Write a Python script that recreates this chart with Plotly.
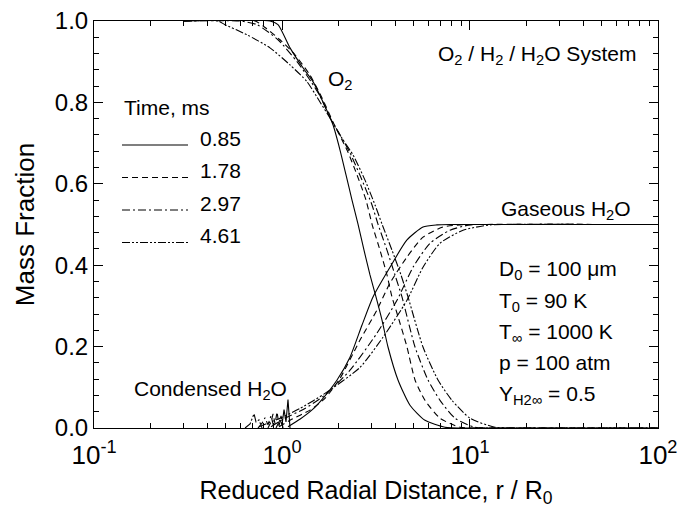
import plotly.graph_objects as go

FONT = "Liberation Sans, Arial, Helvetica, sans-serif"

times = ["0.85", "1.78", "2.97", "4.61"]
dashes = ["solid", "6px,4px", "8px,3px,2px,3px", "8px,2px,2px,2px,2px,2px"]

# O2 mass fraction vs reduced radial distance
o2_r = [
    [0.3, 0.863, 0.952, 1.103, 1.293, 1.462, 1.652, 1.867, 2.035, 2.190, 2.357, 2.537,
     2.730, 2.938, 3.162, 3.404, 3.663, 4.140, 4.795, 5.763, 7.362, 10.0, 100],
    [0.3, 0.719, 0.812, 0.976, 1.172, 1.409, 1.633, 1.867, 2.217, 2.506, 2.798, 3.011,
     3.320, 3.618, 3.846, 4.090, 4.622, 5.100, 5.763, 6.928, 8.847, 12.78, 100],
    [0.3, 0.598, 0.736, 0.952, 1.202, 1.427, 1.600, 1.800, 2.035, 2.300, 2.665, 3.011,
     3.240, 3.618, 3.990, 4.347, 5.100, 5.980, 6.928, 8.323, 10.63, 16.32, 100],
    [0.3, 0.457, 0.497, 0.652, 0.863, 1.103, 1.358, 1.592, 1.800, 2.111, 2.386, 2.764,
     3.124, 3.404, 3.846, 4.295, 4.680, 5.623, 6.758, 8.022, 10.0, 13.58, 20.85, 100],
]
o2_y = [
    [1.0, 1.0, 0.991, 0.934, 0.885, 0.851, 0.801, 0.745, 0.683, 0.622, 0.560, 0.501,
     0.437, 0.376, 0.322, 0.265, 0.199, 0.118, 0.056, 0.019, 0.002, 0.0, 0.0],
    [1.0, 1.0, 0.984, 0.954, 0.917, 0.867, 0.811, 0.752, 0.683, 0.622, 0.560, 0.501,
     0.437, 0.376, 0.322, 0.282, 0.199, 0.118, 0.068, 0.024, 0.002, 0.0, 0.0],
    [1.0, 1.0, 0.991, 0.954, 0.900, 0.851, 0.814, 0.762, 0.720, 0.676, 0.609, 0.548,
     0.501, 0.437, 0.376, 0.322, 0.199, 0.118, 0.068, 0.024, 0.002, 0.0, 0.0],
    [1.0, 1.0, 0.991, 0.966, 0.934, 0.892, 0.851, 0.801, 0.762, 0.708, 0.671, 0.609,
     0.548, 0.501, 0.437, 0.376, 0.322, 0.199, 0.118, 0.068, 0.024, 0.002, 0.0, 0.0],
]

# Gaseous H2O
h2o_r = [
    [1.076, 1.25, 1.45, 1.652, 1.962, 2.300, 2.665, 3.048, 3.753, 4.622, 5.623, 6.676, 7.831, 100],
    [0.964, 1.103, 1.409, 1.693, 2.035, 2.600, 3.201, 3.753, 4.622, 5.623, 7.185, 8.847, 10.63, 100],
    [0.874, 1.037, 1.325, 1.693, 2.300, 3.201, 4.090, 4.977, 6.127, 7.831, 10.0, 12.78, 100],
    [0.754, 0.976, 1.247, 1.693, 2.600, 3.446, 4.622, 5.623, 6.928, 9.18, 12.78, 16.32, 100],
]
h2o_y = [
    [0.003, 0.022, 0.045, 0.073, 0.118, 0.174, 0.253, 0.322, 0.395, 0.462, 0.494, 0.499, 0.5, 0.5],
    [0.003, 0.019, 0.044, 0.073, 0.122, 0.216, 0.290, 0.356, 0.420, 0.469, 0.494, 0.499, 0.5, 0.5],
    [0.003, 0.024, 0.048, 0.081, 0.142, 0.233, 0.314, 0.395, 0.454, 0.486, 0.499, 0.5, 0.5],
    [0.003, 0.024, 0.048, 0.085, 0.149, 0.223, 0.314, 0.395, 0.454, 0.486, 0.499, 0.5, 0.5],
]

# Condensed H2O (jagged near droplet surface)
cond_r = [
    [0.929, 0.976, 1.0, 1.025, 1.05, 1.076, 1.103],
    [0.842, 0.874, 0.896, 0.918, 0.941, 0.964, 0.988, 1.012],
    [0.745, 0.783, 0.812, 0.842, 0.874, 0.907],
    [0.636, 0.676, 0.710, 0.727, 0.754, 0.783],
]
cond_y = [
    [0.0, 0.02, 0.008, 0.045, 0.015, 0.07, 0.0],
    [0.0, 0.015, 0.035, 0.01, 0.04, 0.005, 0.03, 0.0],
    [0.0, 0.012, 0.025, 0.008, 0.03, 0.0],
    [0.0, 0.01, 0.035, 0.015, 0.02, 0.0],
]

fig = go.Figure()
line_w = 1.1
for i in range(4):
    fig.add_trace(go.Scatter(x=o2_r[i], y=o2_y[i], mode="lines", name=times[i],
                             line=dict(color="black", width=line_w, dash=dashes[i],
                                       shape="spline", smoothing=0.6),
                             showlegend=False))
    fig.add_trace(go.Scatter(x=h2o_r[i], y=h2o_y[i], mode="lines", name=times[i],
                             line=dict(color="black", width=line_w, dash=dashes[i],
                                       shape="spline", smoothing=0.6),
                             showlegend=False))
    fig.add_trace(go.Scatter(x=cond_r[i], y=cond_y[i], mode="lines", name=times[i],
                             line=dict(color="black", width=line_w, dash=dashes[i]),
                             showlegend=False))

# plot area in pixels: x 94..658, y 21..428
L, R, T, B = 94, 19, 21, 84
W, H = 677 - L - R, 512 - T - B


def px(xp):
    return (xp - L) / W


def py(yp):
    return (T + H - yp) / H


ann = []
fs = 21
# legend
ann.append(dict(x=px(122), y=py(107.5), text="Time, ms", xanchor="left", yanchor="middle",
                font=dict(size=21)))
leg_text_y = [138, 170.5, 203, 235.5]
leg_line_y = [145, 177.5, 210, 242.5]
shapes = []
for i in range(4):
    shapes.append(dict(type="line", xref="paper", yref="paper", x0=px(122), x1=px(188),
                       y0=py(leg_line_y[i]), y1=py(leg_line_y[i]),
                       line=dict(color="black", width=line_w, dash=dashes[i])))
    ann.append(dict(x=px(198), y=py(leg_text_y[i]), text=times[i], xanchor="left",
                    yanchor="middle", font=dict(size=21)))

ann.append(dict(x=px(326), y=py(80), text="O<sub>2</sub>", xanchor="left", yanchor="middle",
                font=dict(size=21)))
ann.append(dict(x=px(638), y=py(55), text="O<sub>2</sub> / H<sub>2</sub> / H<sub>2</sub>O System",
                xanchor="right", yanchor="middle", font=dict(size=fs)))
ann.append(dict(x=px(633), y=py(210), text="Gaseous H<sub>2</sub>O",
                xanchor="right", yanchor="middle", font=dict(size=fs)))
ann.append(dict(x=px(289), y=py(390), text="Condensed H<sub>2</sub>O",
                xanchor="right", yanchor="middle", font=dict(size=fs)))
params = ["D<sub>0</sub> = 100 μm", "T<sub>0</sub> = 90 K", "T<sub>∞</sub> = 1000 K",
          "p = 100 atm", "Y<sub>H2∞</sub> = 0.5"]
param_y = [270, 301.5, 333, 362, 395]
for t, yy in zip(params, param_y):
    ann.append(dict(x=px(497), y=py(yy), text=t, xanchor="left", yanchor="middle",
                    font=dict(size=fs)))

for a in ann:
    a.update(xref="paper", yref="paper", showarrow=False)
    a["font"].update(color="black", family=FONT)

xmin = [0.2, 0.3, 0.4, 0.5, 0.6, 0.7, 0.8, 0.9, 2, 3, 4, 5, 6, 7, 8, 9,
        20, 30, 40, 50, 60, 70, 80, 90]

fig.update_layout(
    width=677, height=512,
    margin=dict(l=L, r=R, t=T, b=B, autoexpand=False),
    paper_bgcolor="white", plot_bgcolor="white",
    font=dict(family=FONT, color="black"),
    showlegend=False,
    annotations=ann, shapes=shapes,
    xaxis=dict(type="log", range=[-1.0002, 2.0002], tickmode="array",
               tickvals=[0.1, 1, 10, 100],
               ticktext=["10<sup>-1</sup>", "10<sup>0</sup>", "10<sup>1</sup>", "10<sup>2</sup>"],
               ticklabeloverflow="allow", ticklabelstandoff=4,
               ticks="inside", ticklen=9, tickwidth=1, tickcolor="black",
               showline=True, linecolor="black", linewidth=1, mirror="ticks",
               showgrid=False, zeroline=False,
               tickfont=dict(size=26),
               minor=dict(tickmode="array", tickvals=xmin, ticks="inside", ticklen=5,
                          tickcolor="black", tickwidth=1, showgrid=False),
               title=dict(text="Reduced Radial Distance, r / R<sub>0</sub>",
                          font=dict(size=25), standoff=12)),
    yaxis=dict(range=[0, 1], tickmode="linear", tick0=0, dtick=0.2, tickformat=".1f",
               ticks="inside", ticklen=9, tickwidth=1, tickcolor="black",
               showline=True, linecolor="black", linewidth=1, mirror="ticks",
               showgrid=False, zeroline=False,
               tickfont=dict(size=24),
               minor=dict(dtick=0.04, ticks="inside", ticklen=5, tickcolor="black",
                          tickwidth=1, showgrid=False),
               title=dict(text="Mass Fraction", font=dict(size=26), standoff=12)),
)

fig.write_html("out.html")
